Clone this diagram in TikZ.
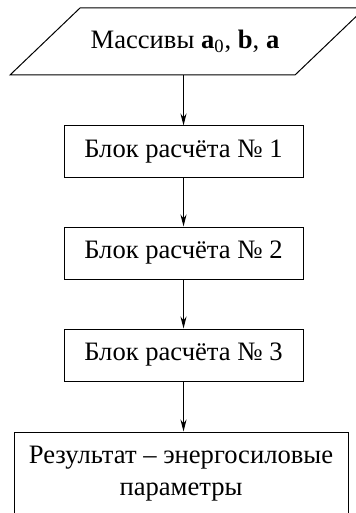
\documentclass[tikz,border=0pt]{standalone}
\usepackage{fontspec}
\setmainfont{Liberation Serif}
\usetikzlibrary{arrows.meta}
\tikzstyle{block}=[rectangle, draw, line width=0.5pt, minimum width=119.5pt, minimum height=26pt, inner sep=0pt, font=\fontsize{13.3}{16}\selectfont]
\tikzstyle{intext}=[inner sep=0pt, minimum height=33.5pt, font=\fontsize{13.3}{16}\selectfont]
\tikzstyle{arr}=[line width=0.5pt, -{Stealth[length=6pt, width=3pt]}]
\newcommand{\calcblock}{\node[block]}

\begin{document}
\begin{tikzpicture}[x=0.5pt, y=-0.5pt]
\useasboundingbox (0,0) rectangle (355,513);
% input parallelogram
\draw[line width=0.5pt] (10,75) -- (80,8) -- (365,8) -- (295,75) -- cycle;
\node[intext] (in) at (185,41.5) {Массивы \textbf{a}\textsubscript{0}, \textbf{b}, \textbf{a}};
\foreach \i/\y in {1/152,2/253,3/355}{
	\calcblock (b\i) at (183.5,\y) {Блок расчёта № \i};
	}
\node[block, minimum width=167pt, minimum height=42pt, align=center] (res) at (181,474) {Результат – энергосиловые\\параметры};
\draw[arr] (in.south -| b1) -- (b1);
\draw[arr] (b1) -- (b2);
\draw[arr] (b2) -- (b3);
\draw[arr] (b3) -- (b3 |- res.north);
\end{tikzpicture}
\end{document}
